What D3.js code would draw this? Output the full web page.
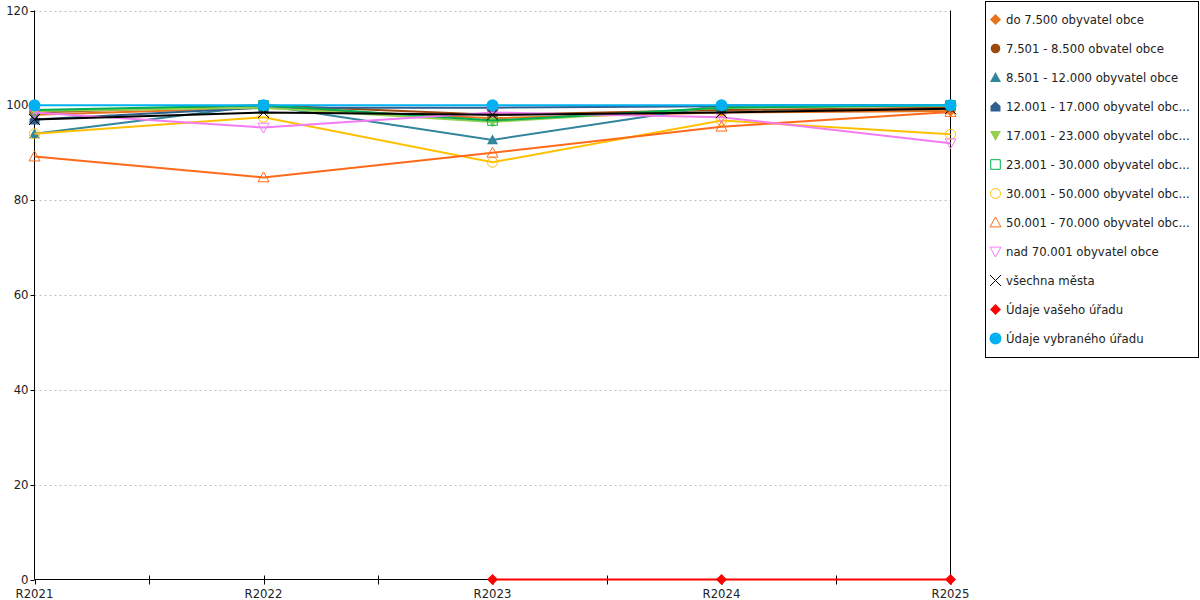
<!DOCTYPE html>
<html>
<head>
<meta charset="utf-8">
<script src="https://cdn.jsdelivr.net/npm/d3@7"></script>
<style>
  body { margin: 0; background: #fff; }
  svg { font-family: "DejaVu Sans", Verdana, sans-serif; }
</style>
</head>
<body>
<div id="chart"></div>
<script>
// Line chart: share per population group, by year
const years = ['R2021', 'R2022', 'R2023', 'R2024', 'R2025'];
const yTicks = [0, 20, 40, 60, 80, 100, 120];

const seriesNames = [
  'do 7.500 obyvatel obce',
  '7.501 - 8.500 obvatel obce',
  '8.501 - 12.000 obyvatel obce',
  '12.001 - 17.000 obyvatel obc...',
  '17.001 - 23.000 obyvatel obc...',
  '23.001 - 30.000 obyvatel obc...',
  '30.001 - 50.000 obyvatel obc...',
  '50.001 - 70.000 obyvatel obc...',
  'nad 70.001 obyvatel obce',
  'všechna města',
  'Údaje vašeho úřadu',
  'Údaje vybraného úřadu'
];

const do7500 = [98.0, 99.5, 97.3, 98.5, 98.8];
const s7501 = [98.5, 100, 98.0, 99.0, 99.5];
const s8501 = [94.0, 100, 92.7, 100, 100];
const s12001 = [97.0, 99.5, 99.5, 99.8, 100];
const s17001 = [98.8, 99.5, 96.5, 99.5, 100];
const s23001 = [99.0, 100, 96.8, 99.5, 100];
const s30001 = [94.0, 97.5, 88.0, 96.8, 93.9];
const s50001 = [89.2, 84.8, 90.0, 95.5, 98.6];
const nad70001 = [98.5, 95.3, 98.5, 97.5, 92.0];
const vsechna = [97.0, 98.5, 98.0, 98.5, 99.3];
const vaseho = [null, null, 0, 0, 0];
const vybraneho = [100, 100, 100, 100, 100];

const seriesValues = [do7500, s7501, s8501, s12001, s17001, s23001, s30001, s50001, nad70001, vsechna, vaseho, vybraneho];

// style per series: colour, marker shape, filled?
const styles = [
  { color: '#e8731c', symbol: 'diamond', fill: true, r: 5.5 },
  { color: '#9c4a0c', symbol: 'circle', fill: true, r: 4.8 },
  { color: '#31859c', symbol: 'triUp', fill: true, r: 5.5 },
  { color: '#2f5f8f', symbol: 'house', fill: true, r: 5 },
  { color: '#92d050', symbol: 'triDown', fill: true, r: 5.5 },
  { color: '#00b050', symbol: 'square', fill: false, r: 4.8 },
  { color: '#ffc000', symbol: 'circle', fill: false, r: 5 },
  { color: '#ff6a1a', symbol: 'triUp', fill: false, r: 5.5 },
  { color: '#f37cf3', symbol: 'triDown', fill: false, r: 5.5 },
  { color: '#000000', symbol: 'cross', fill: false, r: 5.5 },
  { color: '#ff0000', symbol: 'diamond', fill: true, r: 5.5 },
  { color: '#00b0f0', symbol: 'circle', fill: true, r: 6 }
];

const W = 1200, H = 600;
const plot = { left: 34.5, right: 950.5, top: 10.5, bottom: 579.5 };

const svg = d3.select('#chart').append('svg')
  .attr('width', W)
  .attr('height', H);

const x = d3.scalePoint().domain(years).range([plot.left, plot.right]);
const y = d3.scaleLinear().domain([0, 120]).range([plot.bottom, plot.top]);

// marker path helper
function markerPath(st) {
  const r = st.r;
  switch (st.symbol) {
    case 'diamond': return `M0,${-r} L${r},0 L0,${r} L${-r},0 Z`;
    case 'circle': return d3.symbol().type(d3.symbolCircle).size(Math.PI * r * r)();
    case 'square': return `M${-r},${-r} H${r} V${r} H${-r} Z`;
    case 'triUp': return `M0,${-r} L${r},${r * 0.8} L${-r},${r * 0.8} Z`;
    case 'triDown': return `M${-r},${-r * 0.8} L${r},${-r * 0.8} L0,${r} Z`;
    case 'house': return `M0,${-r} L${r},${-r * 0.1} L${r},${r} L${-r},${r} L${-r},${-r * 0.1} Z`;
    case 'cross': return `M${-r},${-r} L${r},${r} M${r},${-r} L${-r},${r}`;
  }
}

// grid lines
svg.append('g')
  .selectAll('line')
  .data(yTicks.filter(t => t > 0))
  .join('line')
  .attr('x1', plot.left).attr('x2', plot.right)
  .attr('y1', d => Math.round(y(d)) + 0.5).attr('y2', d => Math.round(y(d)) + 0.5)
  .attr('stroke', '#bfbfbf')
  .attr('stroke-dasharray', '2,3');

// y axis
const yg = svg.append('g');
yg.append('line')
  .attr('x1', plot.left).attr('x2', plot.left)
  .attr('y1', plot.top).attr('y2', plot.bottom)
  .attr('stroke', '#000');
yg.selectAll('line.t')
  .data(yTicks)
  .join('line')
  .attr('class', 't')
  .attr('x1', plot.left - 4).attr('x2', plot.left)
  .attr('y1', d => Math.round(y(d)) + 0.5).attr('y2', d => Math.round(y(d)) + 0.5)
  .attr('stroke', '#000');
yg.selectAll('text')
  .data(yTicks)
  .join('text')
  .attr('x', plot.left - 6)
  .attr('y', d => y(d) + 4)
  .attr('text-anchor', 'end')
  .attr('font-size', 11.7)
  .attr('fill', '#222')
  .text(d => d);

// right frame line
svg.append('line')
  .attr('x1', plot.right).attr('x2', plot.right)
  .attr('y1', plot.top).attr('y2', plot.bottom)
  .attr('stroke', '#000');

// x axis
const step = x.step();
const halfTicks = d3.range(years.length - 1).map(i => x(years[i]) + step / 2);
const xg = svg.append('g');
xg.append('line')
  .attr('x1', plot.left).attr('x2', plot.right)
  .attr('y1', plot.bottom).attr('y2', plot.bottom)
  .attr('stroke', '#000');
xg.selectAll('line.t')
  .data(years.map(d => x(d)).concat(halfTicks))
  .join('line')
  .attr('class', 't')
  .attr('x1', d => Math.round(d) + 0.5).attr('x2', d => Math.round(d) + 0.5)
  .attr('y1', (d, i) => i === 0 ? plot.bottom : plot.bottom - 4)
  .attr('y2', plot.bottom + 5)
  .attr('stroke', '#000');
xg.selectAll('text')
  .data(years)
  .join('text')
  .attr('x', d => x(d))
  .attr('y', plot.bottom + 18)
  .attr('text-anchor', 'middle')
  .attr('font-size', 11.7)
  .attr('fill', '#222')
  .text(d => d);

// lines and markers
const line = d3.line()
  .defined(d => d.v !== null)
  .x(d => x(d.year))
  .y(d => y(d.v));

seriesValues.forEach((vals, si) => {
  const st = styles[si];
  const pts = years.map((yr, i) => ({ year: yr, v: vals[i] }));
  const g = svg.append('g');
  g.append('path')
    .attr('d', line(pts))
    .attr('fill', 'none')
    .attr('stroke', st.color)
    .attr('stroke-width', 2);
  g.selectAll('path.m')
    .data(pts.filter(p => p.v !== null))
    .join('path')
    .attr('class', 'm')
    .attr('transform', p => `translate(${x(p.year)},${y(p.v)})`)
    .attr('d', markerPath(st))
    .attr('fill', st.fill ? st.color : 'none')
    .attr('stroke', st.color)
    .attr('stroke-width', st.fill ? 0 : 1);
});

// legend
const lg = svg.append('g');
lg.append('rect')
  .attr('x', 985.5).attr('y', 1.5)
  .attr('width', 213).attr('height', 356)
  .attr('fill', '#fff').attr('stroke', '#000');

const items = lg.selectAll('g.item')
  .data(seriesNames)
  .join('g')
  .attr('class', 'item')
  .attr('transform', (d, i) => `translate(995.5,${19.5 + i * 29})`);

items.append('path')
  .attr('d', (d, i) => markerPath(styles[i]))
  .attr('fill', (d, i) => styles[i].fill ? styles[i].color : 'none')
  .attr('stroke', (d, i) => styles[i].color)
  .attr('stroke-width', (d, i) => styles[i].fill ? 0 : 1);

items.append('text')
  .attr('x', 10.5)
  .attr('y', 4)
  .attr('font-size', 11.7)
  .attr('fill', '#222')
  .text(d => d);
</script>
</body>
</html>
